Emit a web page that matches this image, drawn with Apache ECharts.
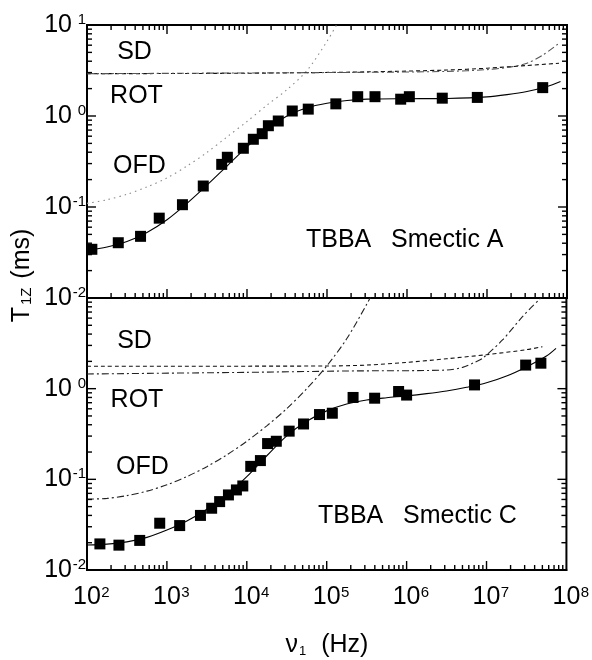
<!DOCTYPE html>
<html><head><meta charset="utf-8">
<script src="https://cdn.jsdelivr.net/npm/echarts@6/dist/echarts.min.js"></script>
<style>html,body{margin:0;padding:0;background:#fff}#c{width:592px;height:660px}</style>
</head><body><div id="c"></div>
<script>
// ---------- data ----------
const xTickValues = [1e2, 1e3, 1e4, 1e5, 1e6, 1e7, 1e8];
const yTickValues = [0.01, 0.1, 1, 10];

// Smectic A (top panel) measured points
const topSqFreq = [115, 246, 467, 800, 1560, 2840, 4830, 5680, 9000, 12000, 15500, 18500, 24600, 36800, 58300, 129000, 242000, 398000, 834000, 1070000, 2760000, 7570000, 49700000];
const topSqT1   = [0.0343, 0.0405, 0.0476, 0.0754, 0.106, 0.170, 0.294, 0.352, 0.442, 0.555, 0.639, 0.782, 0.881, 1.135, 1.19, 1.36, 1.63, 1.63, 1.53, 1.63, 1.57, 1.60, 2.05];
// fit and model curves (top)
const topFitFreq = [100, 178, 316, 562, 1000, 1778, 3162, 5623, 10000, 17783, 31623, 56234, 1e5, 177828, 316228, 1e6, 3.16e6, 1e7, 1.78e7, 3.16e7, 5.62e7, 8.3e7];
const topFitT1   = [0.0331, 0.0363, 0.0417, 0.0525, 0.0724, 0.1096, 0.1738, 0.2818, 0.4571, 0.7079, 1.0, 1.230, 1.380, 1.479, 1.531, 1.549, 1.560, 1.622, 1.718, 1.862, 2.113, 2.399];
const topSDFreq  = [100, 1e4, 316228, 3.16e6, 1e7, 3.16e7, 7.94e7];
const topSDT1    = [2.917, 2.951, 3.055, 3.199, 3.350, 3.589, 3.802];
const topROTFreq = [100, 316228, 3.16e6, 1e7, 2e7, 3.16e7, 5.01e7, 7.94e7];
const topROTT1   = [2.917, 3.020, 3.090, 3.236, 3.467, 3.802, 4.677, 6.310];
const topOFDFreq = [100, 178, 316, 562, 1000, 1778, 3162, 5623, 1e4, 17783, 31623, 56234, 1e5, 131826, 158489];
const topOFDT1   = [0.1096, 0.1202, 0.1380, 0.1660, 0.2089, 0.2818, 0.3981, 0.5888, 0.8710, 1.318, 1.950, 3.162, 6.607, 10.0, 12.59];

// Smectic C (bottom panel) measured points
const botSqFreq = [145, 251, 457, 813, 1445, 2630, 3630, 4570, 5890, 7410, 8910, 11200, 14800, 18200, 23400, 33900, 51300, 81300, 117500, 213800, 398000, 794000, 1000000, 7080000, 30900000, 47900000];
const botSqT1   = [0.0194, 0.0188, 0.0212, 0.0328, 0.0309, 0.040, 0.048, 0.0568, 0.0673, 0.0764, 0.0845, 0.139, 0.161, 0.248, 0.263, 0.340, 0.408, 0.518, 0.536, 0.80, 0.785, 0.93, 0.85, 1.10, 1.82, 1.91];
const botFitFreq = [100, 178, 316, 562, 1000, 1778, 3162, 5623, 1e4, 17783, 31623, 56234, 1e5, 177828, 316228, 562341, 1e6, 1.78e6, 3.16e6, 5.62e6, 1e7, 1.78e7, 3.16e7, 5.62e7, 7.41e7];
const botFitT1   = [0.01884, 0.01928, 0.02042, 0.02291, 0.02754, 0.03467, 0.04677, 0.06761, 0.1072, 0.1820, 0.3020, 0.4365, 0.5689, 0.6761, 0.7499, 0.7943, 0.8318, 0.8810, 0.9441, 1.035, 1.161, 1.380, 1.738, 2.291, 2.786];
const botSDFreq  = [100, 1e5, 316228, 1e6, 3.16e6, 1e7, 3.16e7, 5.01e7];
const botSDT1    = [1.766, 1.778, 1.820, 1.950, 2.138, 2.371, 2.692, 2.904];
const botROTFreq = [100, 1e4, 177828, 3.16e6, 5.01e6, 7.08e6, 8.91e6, 1.585e7, 2.818e7, 5.01e7];
const botROTT1   = [1.452, 1.514, 1.567, 1.603, 1.718, 1.950, 2.163, 3.443, 6.223, 10.47];
const botOFDFreq = [100, 178, 316, 562, 1000, 1778, 3162, 5623, 1e4, 17783, 31623, 56234, 1e5, 177828, 316228, 398107];
const botOFDT1   = [0.0603, 0.0617, 0.0661, 0.0741, 0.0871, 0.1072, 0.1380, 0.1862, 0.2630, 0.3890, 0.6026, 1.0, 1.778, 3.548, 8.511, 12.59];

// ---------- helpers ----------
const FONT = '"Liberation Sans", Arial, Helvetica, sans-serif';
const xMinor = [];
for (let d = 2; d < 8; d++) for (let m = 2; m <= 9; m++) xMinor.push(m * Math.pow(10, d));
const yMinor = [];
for (let d = -2; d < 1; d++) for (let m = 2; m <= 9; m++) yMinor.push(+(m * Math.pow(10, d)).toPrecision(3));
const xMajorInner = xTickValues.slice(1, -1);
const yMajorInner = yTickValues.slice(1, -1);

const zip = (a, b) => a.map((v, i) => [v, b[i]]);
const expOf = v => Math.round(Math.log10(v));

const TICK_W = 1.4;
const MAJ_LEN = 9, MIN_LEN = 5;
const XLO = 1e2, XHI = 1e8, YLO = 0.01, YHI = 10;

function makeX(gi, showLabels) {
  return {
    gridIndex: gi, type: 'log', logBase: 10, min: XLO, max: XHI, position: 'bottom',
    splitLine: { show: false },
    axisLine: { show: true, onZero: false, lineStyle: { color: '#000', width: 2 } },
    axisTick: { show: false },
    axisLabel: {
      show: showLabels, margin: 15,
      formatter: v => '{b|10}{s|' + expOf(v) + '}',
      rich: {
        b: { fontSize: 25, fontFamily: FONT, color: '#000', padding: [0, 0, 0, 9] },
        s: { fontSize: 15, fontFamily: FONT, color: '#000', verticalAlign: 'top', width: 9 }
      }
    }
  };
}
function makeY(gi, hideTop) {
  return {
    gridIndex: gi, type: 'log', logBase: 10, min: YLO, max: YHI, position: 'left',
    splitLine: { show: false },
    axisLine: { show: true, onZero: false, lineStyle: { color: '#000', width: 2 } },
    axisTick: { show: false },
    axisLabel: {
      show: true, margin: 1,
      formatter: v => (hideTop && v >= 9.99) ? '' : '{b|10}{s|' + expOf(v) + '}',
      rich: {
        b: { fontSize: 25, fontFamily: FONT, color: '#000' },
        s: { fontSize: 15, fontFamily: FONT, color: '#000', verticalAlign: 'top', width: 14 }
      }
    }
  };
}

const X_TOP = 0, X_BOT = 1, Y_TOP = 0, Y_BOT = 1;

// inward tick marks drawn as thin rect symbols anchored on the frame through the axes' scales
function tickSeries(xi, yi, side, values, len) {
  let data, size, offset;
  if (side === 'bottom') { data = values.map(v => [v, YLO]); size = [TICK_W, len]; offset = [0, -len / 2]; }
  else if (side === 'top') { data = values.map(v => [v, YHI]); size = [TICK_W, len]; offset = [0, len / 2]; }
  else if (side === 'left') { data = values.map(v => [XLO, v]); size = [len, TICK_W]; offset = [len / 2, 0]; }
  else { data = values.map(v => [XHI, v]); size = [len, TICK_W]; offset = [-len / 2, 0]; }
  return {
    type: 'scatter', xAxisIndex: xi, yAxisIndex: yi, data: data, clip: false, silent: true, z: 4,
    symbol: 'rect', symbolSize: size, symbolOffset: offset,
    itemStyle: { color: '#000', opacity: 1 }
  };
}

function lineSeries(xi, yi, fr, t, style, z) {
  return {
    type: 'line', xAxisIndex: xi, yAxisIndex: yi, data: zip(fr, t),
    showSymbol: false, symbol: 'none', smooth: 0.3,
    lineStyle: style, z: z || 2
  };
}
function sqSeries(xi, yi, fr, t) {
  return {
    type: 'scatter', xAxisIndex: xi, yAxisIndex: yi, data: zip(fr, t),
    symbol: 'rect', symbolSize: 11, itemStyle: { color: '#000', opacity: 1 }, z: 5
  };
}

const solid = { color: '#000', width: 1.1, type: 'solid' };
const dashed = { color: '#111', width: 1.1, type: [4, 3] };
const dashDot = { color: '#222', width: 1.1, type: [7, 3, 2, 3] };
const dotted = { color: '#8a8a8a', width: 1.1, type: [1.5, 4] };

const series = [
  lineSeries(X_TOP, Y_TOP, topOFDFreq, topOFDT1, dotted),
  lineSeries(X_TOP, Y_TOP, topSDFreq, topSDT1, dashed),
  lineSeries(X_TOP, Y_TOP, topROTFreq, topROTT1, Object.assign({}, dashDot, { color: '#555' })),
  lineSeries(X_TOP, Y_TOP, topFitFreq, topFitT1, solid, 3),
  sqSeries(X_TOP, Y_TOP, topSqFreq, topSqT1),
  lineSeries(X_BOT, Y_BOT, botOFDFreq, botOFDT1, dashDot),
  lineSeries(X_BOT, Y_BOT, botSDFreq, botSDT1, dashed),
  lineSeries(X_BOT, Y_BOT, botROTFreq, botROTT1, dashDot),
  lineSeries(X_BOT, Y_BOT, botFitFreq, botFitT1, solid, 3),
  sqSeries(X_BOT, Y_BOT, botSqFreq, botSqT1),
  // top panel frame ticks
  tickSeries(X_TOP, Y_TOP, 'bottom', xMajorInner, MAJ_LEN),
  tickSeries(X_TOP, Y_TOP, 'bottom', xMinor, MIN_LEN),
  tickSeries(X_TOP, Y_TOP, 'top', xMajorInner, MAJ_LEN),
  tickSeries(X_TOP, Y_TOP, 'top', xMinor, MIN_LEN),
  tickSeries(X_TOP, Y_TOP, 'left', yMajorInner, MAJ_LEN),
  tickSeries(X_TOP, Y_TOP, 'left', yMinor, MIN_LEN),
  tickSeries(X_TOP, Y_TOP, 'right', yMajorInner, MAJ_LEN),
  tickSeries(X_TOP, Y_TOP, 'right', yMinor, MIN_LEN),
  // bottom panel frame ticks
  tickSeries(X_BOT, Y_BOT, 'bottom', xMajorInner, MAJ_LEN),
  tickSeries(X_BOT, Y_BOT, 'bottom', xMinor, MIN_LEN),
  tickSeries(X_BOT, Y_BOT, 'left', yMajorInner, MAJ_LEN),
  tickSeries(X_BOT, Y_BOT, 'left', yMinor, MIN_LEN),
  tickSeries(X_BOT, Y_BOT, 'right', yMajorInner, MAJ_LEN),
  tickSeries(X_BOT, Y_BOT, 'right', yMinor, MIN_LEN)
];

function txt(text, x, y, align) {
  return { type: 'text', silent: true, z: 10, style: { text: text, x: x, y: y, textAlign: align || 'center', textVerticalAlign: 'middle', font: '25px ' + FONT, fill: '#000' } };
}

const graphics = [
  txt('SD', 134.5, 52.5), txt('ROT', 136.5, 96.5), txt('OFD', 139.5, 166),
  txt('TBBA', 306, 240, 'left'), txt('Smectic A', 391, 240, 'left'),
  txt('SD', 134.5, 341), txt('ROT', 137, 400.5), txt('OFD', 142.5, 467),
  txt('TBBA', 318, 516, 'left'), txt('Smectic C', 403, 516, 'left'),
  {
    type: 'text', silent: true, z: 10, x: 22, y: 275.5, rotation: Math.PI / 2,
    style: {
      text: '{b|T}{s|1Z}{b| (ms)}', x: 0, y: 0, textAlign: 'center', textVerticalAlign: 'middle',
      rich: {
        b: { fontSize: 25, fontFamily: FONT, fill: '#000' },
        s: { fontSize: 15, fontFamily: FONT, fill: '#000', verticalAlign: 'bottom', padding: [0, 2, 0, 2] }
      }
    }
  },
  {
    type: 'text', silent: true, z: 10,
    style: {
      text: '{b|ν}{s|1}{b|  (Hz)}', x: 327, y: 645, textAlign: 'center', textVerticalAlign: 'middle',
      rich: {
        b: { fontSize: 25, fontFamily: FONT, fill: '#000' },
        s: { fontSize: 13, fontFamily: FONT, fill: '#000', verticalAlign: 'bottom', padding: [0, 1, 0, 1] }
      }
    }
  }
];

const chart = echarts.init(document.getElementById('c'));
chart.setOption({
  animation: false,
  grid: [
    { left: 87, top: 25, width: 480, height: 273, show: true, borderColor: '#000', borderWidth: 2, backgroundColor: 'transparent' },
    { left: 87, top: 298, width: 480, height: 272, show: true, borderColor: '#000', borderWidth: 2, backgroundColor: 'transparent' }
  ],
  xAxis: [makeX(0, false), makeX(1, true)],
  yAxis: [makeY(0, false), makeY(1, true)],
  series: series
});
chart.setOption({ graphic: graphics });
</script>
</body></html>
